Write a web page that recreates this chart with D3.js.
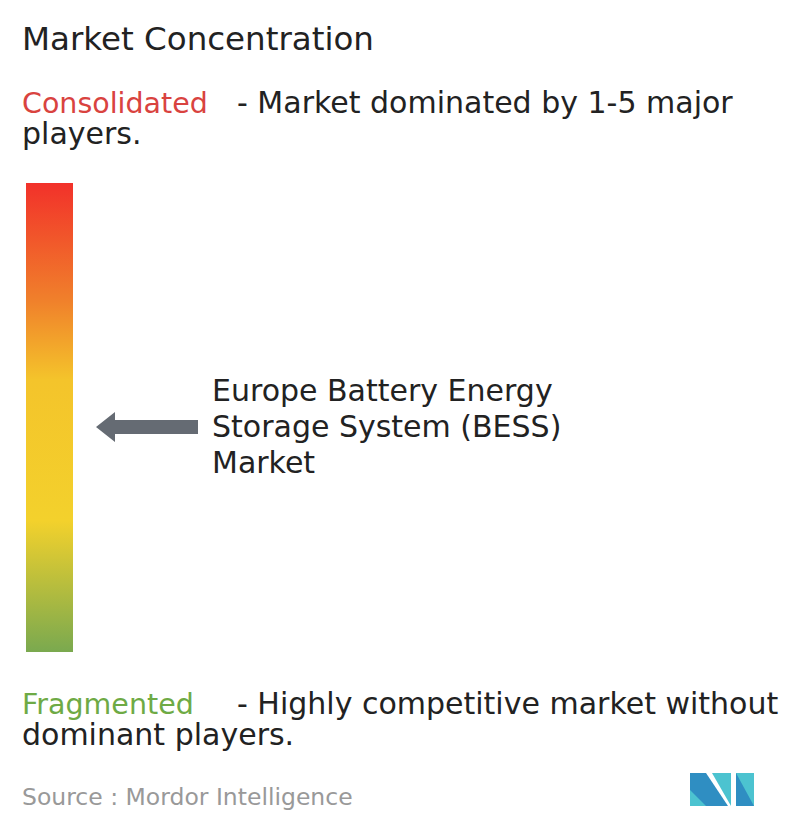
<!DOCTYPE html>
<html><head><meta charset="utf-8">
<script src="https://cdn.jsdelivr.net/npm/d3@7"></script>
<style>body{margin:0;background:#fff}svg{font-family:"DejaVu Sans",sans-serif}</style>
</head><body><svg id="c" width="796" height="834"></svg>
<script>
// scale stops, top (consolidated) to bottom (fragmented)
const stopOffsets = [0, 0.25, 0.42, 0.72, 1];
const stopColors = ["#f2312a", "#f0802b", "#f4c42b", "#f3d12c", "#7aa94f"];
const marketLevel = [0.52]; // 0 = consolidated, 1 = fragmented
const labelLines = ["Europe Battery Energy", "Storage System (BESS)", "Market"];

const svg = d3.select("#c");
const y = d3.scaleLinear().domain([0, 1]).range([183, 652]);

const grad = svg.append("defs").append("linearGradient")
  .attr("id", "g").attr("x1", 0).attr("x2", 0).attr("y1", 0).attr("y2", 1);
grad.selectAll("stop").data(stopOffsets).join("stop")
  .attr("offset", d => d).attr("stop-color", (d, i) => stopColors[i]);

svg.append("rect").attr("x", 26).attr("y", y(0)).attr("width", 47)
  .attr("height", y(1) - y(0)).attr("fill", "url(#g)");

const t = (x, yy, s, size, fill) => svg.append("text").attr("x", x).attr("y", yy)
  .attr("font-size", size).attr("fill", fill || "#222").text(s);

t(22, 50, "Market Concentration", 32.5);
t(22, 113, "Consolidated", 28.5, "#d9433f");
t(237, 113, "- Market dominated by 1-5 major", 30);
t(22, 144, "players.", 30);
t(22, 714, "Fragmented", 28.5, "#6eaa45");
t(237, 714, "- Highly competitive market without", 30);
t(22, 745, "dominant players.", 30);
t(22, 805, "Source :  Mordor Intelligence", 23.5, "#999");

// arrow pointing at the market's position
marketLevel.forEach(v => {
  const cy = y(v);
  svg.append("path")
    .attr("d", `M96,${cy} L115,${cy-15} L115,${cy-7} L198,${cy-7} L198,${cy+7} L115,${cy+7} L115,${cy+15} Z`)
    .attr("fill", "#656b73");
  svg.selectAll(null).data(labelLines).join("text")
    .attr("x", 212).attr("y", (d, i) => cy - 26 + i * 36)
    .attr("font-size", 30).attr("fill", "#222").text(d => d);
});

// logo
const lg = svg.append("g");
lg.append("path").attr("d", "M690,773 L706,773 L728,806 L690,806 Z").attr("fill", "#2f8ec2");
lg.append("path").attr("d", "M690,790 L706,806 L690,806 Z").attr("fill", "#4cc3d0");
lg.append("path").attr("d", "M712,773 L731,773 L731,806 Z").attr("fill", "#4cc3d0");
lg.append("path").attr("d", "M736,773 L754,773 L754,806 L736,806 Z").attr("fill", "#4cc3d0");
lg.append("path").attr("d", "M736,773 L754,806 L736,806 Z").attr("fill", "#2f8ec2");
</script></body></html>
